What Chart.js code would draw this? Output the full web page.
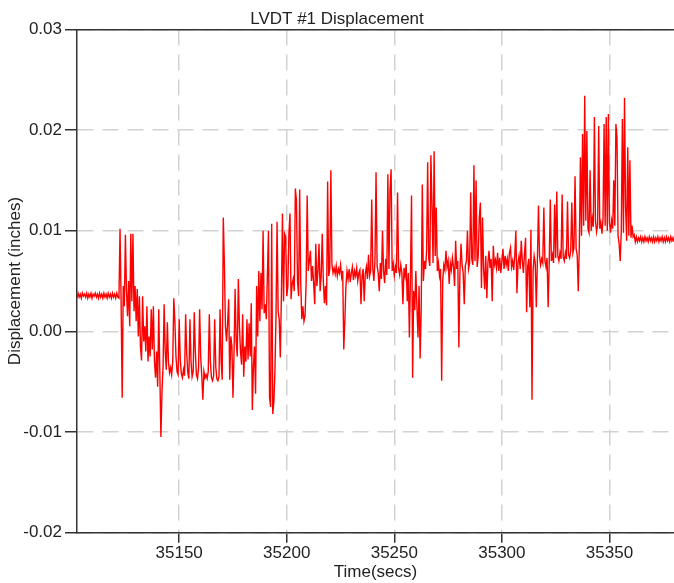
<!DOCTYPE html>
<html>
<head>
<meta charset="utf-8">
<script src="https://cdn.jsdelivr.net/npm/chart.js@4/dist/chart.umd.min.js"></script>
<style>
html,body{margin:0;padding:0;background:#fff;}
#wrap{width:674px;height:583px;}
</style>
</head>
<body>
<div id="wrap"><canvas id="c" width="674" height="583"></canvas></div>
<script>
// Sampling grid of the record (seconds)
const startTime = 35102.5;
const sampleStep = 0.5;
const xRange = [35102.5, 35380];
const xTicks = [35150, 35200, 35250, 35300, 35350];
const yTicks = [-0.02, -0.01, 0.00, 0.01, 0.02, 0.03];

// LVDT #1 displacement (inches), one value per sample
const displacement = [
  0.0033,0.0038,0.0034,0.0037,0.0033,0.0038,0.0035,0.0037,0.0034,0.0038,
  0.0033,0.0037,0.0034,0.0038,0.0033,0.0037,0.0035,0.0038,0.0034,0.0037,
  0.0033,0.0038,0.0034,0.0037,0.0033,0.0038,0.0034,0.0037,0.0033,0.0038,
  0.0034,0.0037,0.0033,0.0038,0.0034,0.0037,0.0033,0.0038,0.0034,0.0033,
  0.0102,0.0030,-0.0066,0.0045,0.0025,0.0096,0.0040,0.0015,0.0050,0.0005,
  0.0097,0.0030,0.0097,0.0020,0.0045,0.0010,0.0042,-0.0005,0.0035,-0.0015,
  -0.0029,0.0035,-0.0010,0.0005,-0.0020,0.0025,-0.0030,-0.0005,-0.0025,0.0022,
  -0.0018,0.0025,-0.0030,-0.0046,-0.0020,-0.0055,0.0022,-0.0040,-0.0105,-0.0060,
  -0.0035,0.0027,-0.0020,-0.0038,0.0009,-0.0030,-0.0041,-0.0036,-0.0043,-0.0030,
  0.0033,0.0010,-0.0025,-0.0040,-0.0043,0.0012,-0.0028,-0.0042,-0.0046,-0.0038,
  -0.0044,0.0017,-0.0022,-0.0041,-0.0047,0.0012,-0.0030,-0.0045,-0.0040,0.0019,
  -0.0020,-0.0043,-0.0047,-0.0036,0.0022,-0.0025,-0.0044,-0.0068,-0.0040,-0.0046,
  -0.0043,-0.0047,-0.0040,0.0017,-0.0030,-0.0046,-0.0049,-0.0044,0.0012,-0.0035,
  -0.0047,-0.0049,-0.0045,0.0022,-0.0030,-0.0048,0.0113,0.0068,0.0005,-0.0010,
  0.0008,0.0032,-0.0048,-0.0005,-0.0015,-0.0066,-0.0020,0.0042,-0.0010,-0.0025,
  0.0052,0.0005,-0.0020,-0.0033,0.0017,-0.0045,-0.0015,-0.0030,0.0012,-0.0028,
  0.0008,-0.0025,0.0028,-0.0078,-0.0035,-0.0015,-0.0062,0.0045,-0.0005,0.0060,
  0.0010,0.0058,0.0022,0.0100,0.0018,0.0027,0.0012,0.0057,0.0100,-0.0066,
  -0.0075,0.0107,-0.0082,-0.0070,-0.0040,0.0015,0.0109,0.0020,0.0012,-0.0026,
  0.0034,0.0117,0.0030,0.0097,0.0094,0.0035,0.0045,0.0097,0.0117,0.0032,
  0.0047,0.0052,0.0040,0.0142,0.0130,0.0050,0.0035,0.0141,0.0048,0.0012,
  0.0025,0.0010,0.0015,0.0048,0.0135,0.0060,0.0070,0.0080,0.0050,0.0065,
  0.0048,0.0027,0.0087,0.0045,0.0060,0.0087,0.0040,0.0055,0.0097,0.0050,
  0.0028,0.0045,0.0026,0.0149,0.0055,0.0062,0.0160,0.0066,0.0058,0.0063,
  0.0057,0.0065,0.0055,0.0062,0.0058,0.0066,0.0054,0.0060,-0.0018,0.0010,
  0.0045,0.0060,0.0052,0.0062,0.0049,0.0058,0.0064,0.0051,0.0060,0.0055,
  0.0063,0.0050,0.0058,0.0061,0.0027,0.0055,0.0062,0.0030,0.0057,0.0064,
  0.0052,0.0076,0.0055,0.0060,0.0131,0.0062,0.0050,0.0070,0.0158,0.0065,
  0.0058,0.0040,0.0068,0.0052,0.0100,0.0060,0.0048,0.0072,0.0056,0.0156,
  0.0062,0.0140,0.0161,0.0060,0.0067,0.0055,0.0064,0.0058,0.0138,0.0062,
  0.0056,0.0066,0.0058,0.0027,0.0063,0.0055,0.0067,0.0030,0.0058,-0.0006,
  0.0055,0.0135,-0.0046,0.0040,0.0021,0.0060,0.0025,-0.0006,0.0045,-0.0027,
  0.0022,0.0146,0.0050,0.0070,0.0062,0.0080,0.0168,0.0072,0.0065,0.0175,
  0.0126,0.0068,0.0179,0.0075,0.0123,0.0060,0.0068,0.0055,0.0062,-0.0049,
  0.0050,0.0066,0.0061,0.0080,0.0064,0.0070,0.0047,0.0068,0.0061,0.0073,
  0.0064,0.0045,0.0090,0.0062,0.0070,-0.0016,0.0060,0.0087,0.0066,0.0058,
  0.0027,0.0065,0.0070,0.0100,0.0062,0.0068,0.0138,0.0072,0.0066,0.0165,
  0.0070,0.0150,0.0064,0.0075,0.0113,0.0128,0.0043,0.0113,0.0062,0.0042,
  0.0075,0.0033,0.0068,0.0080,0.0063,0.0072,0.0030,0.0085,0.0066,0.0071,
  0.0063,0.0078,0.0060,0.0073,0.0058,0.0070,0.0082,0.0062,0.0075,0.0066,
  0.0072,0.0060,0.0078,0.0083,0.0064,0.0070,0.0061,0.0076,0.0100,0.0038,
  0.0068,0.0075,0.0062,0.0090,0.0070,0.0058,0.0077,0.0093,0.0019,0.0065,
  0.0072,0.0024,0.0101,-0.0068,0.0060,0.0075,0.0068,0.0024,0.0070,0.0125,
  0.0075,0.0066,0.0072,0.0068,0.0123,0.0070,0.0064,0.0073,0.0024,0.0068,
  0.0131,0.0070,0.0076,0.0068,0.0126,0.0073,0.0139,0.0075,0.0070,0.0078,
  0.0072,0.0136,0.0074,0.0070,0.0078,0.0072,0.0129,0.0076,0.0073,0.0080,
  0.0128,0.0078,0.0083,0.0154,0.0082,0.0076,0.0040,0.0085,0.0173,0.0095,
  0.0196,0.0105,0.0234,0.0110,0.0199,0.0102,0.0098,0.0160,0.0100,0.0112,
  0.0104,0.0213,0.0110,0.0099,0.0106,0.0204,0.0102,0.0108,0.0097,0.0112,
  0.0206,0.0105,0.0213,0.0100,0.0216,0.0108,0.0098,0.0110,0.0102,0.0150,
  0.0105,0.0206,0.0193,0.0095,0.0087,0.0070,0.0100,0.0211,0.0098,0.0232,
  0.0123,0.0090,0.0183,0.0095,0.0170,0.0093,0.0105,0.0094,0.0096,0.0089,
  0.0094,0.0089,0.0093,0.0090,0.0094,0.0089,0.0093,0.0089,0.0094,0.0090,
  0.0093,0.0089,0.0094,0.0090,0.0093,0.0089,0.0094,0.0089,0.0093,0.0090,
  0.0094,0.0089,0.0093,0.0090,0.0094,0.0089,0.0093,0.0089,0.0094,0.0090,
  0.0093,0.0089,0.0094,0.0090,0.0093,0.0089
];

const points = displacement.map((v, i) => ({ x: startTime + i * sampleStep, y: v }));

const FONT = 'Liberation Sans, Arial, Helvetica, sans-serif';
const TXT = '#222222';
const gridStyle = {
  color: '#d2d2d2',
  lineWidth: 1.5,
  tickColor: '#333333',
  tickWidth: 1.5,
  tickBorderDash: []
};
const axisBorder = { display: true, color: '#333333', width: 1.5, dash: [16, 9] };

new Chart(document.getElementById('c'), {
  type: 'line',
  data: {
    datasets: [{
      data: points,
      borderColor: '#ff0000',
      borderWidth: 1.4,
      pointRadius: 0,
      tension: 0,
      fill: false
    }]
  },
  options: {
    responsive: false,
    animation: false,
    devicePixelRatio: 1,
    layout: { padding: 0 },
    plugins: {
      legend: { display: false },
      tooltip: { enabled: false },
      title: {
        display: true,
        text: 'LVDT #1 Displacement',
        color: TXT,
        font: { family: FONT, size: 17, weight: 'normal', lineHeight: 1.2 },
        padding: { top: 9, bottom: 0 }
      }
    },
    scales: {
      x: {
        type: 'linear',
        position: 'bottom',
        min: xRange[0],
        max: xRange[1],
        afterBuildTicks: s => { s.ticks = xTicks.map(v => ({ value: v })); },
        afterFit: s => { s.height = 50.3; },
        ticks: {
          color: TXT,
          padding: 0,
          maxRotation: 0,
          font: { family: FONT, size: 17 },
          callback: v => String(v)
        },
        grid: Object.assign({ tickLength: 10 }, gridStyle),
        border: axisBorder,
        title: {
          display: true,
          text: 'Time(secs)',
          color: TXT,
          font: { family: FONT, size: 17 },
          padding: { top: 0, bottom: 0 }
        }
      },
      xTop: {
        type: 'linear',
        position: 'top',
        min: xRange[0],
        max: xRange[1],
        afterFit: s => { s.height = 0; },
        ticks: { display: false },
        grid: { display: false, drawTicks: false },
        border: { display: true, color: '#333333', width: 1.5 }
      },
      y: {
        type: 'linear',
        position: 'left',
        min: yTicks[0],
        max: yTicks[yTicks.length - 1],
        afterBuildTicks: s => { s.ticks = yTicks.map(v => ({ value: v })); },
        afterFit: s => { s.width = 77; },
        ticks: {
          color: TXT,
          padding: 3,
          font: { family: FONT, size: 17 },
          callback: v => Number(v).toFixed(2)
        },
        grid: Object.assign({ tickLength: 12 }, gridStyle),
        border: axisBorder,
        title: {
          display: true,
          text: 'Displacement (inches)',
          color: TXT,
          font: { family: FONT, size: 17 },
          padding: { top: 5, bottom: 0 }
        }
      }
    }
  }
});
</script>
</body>
</html>
